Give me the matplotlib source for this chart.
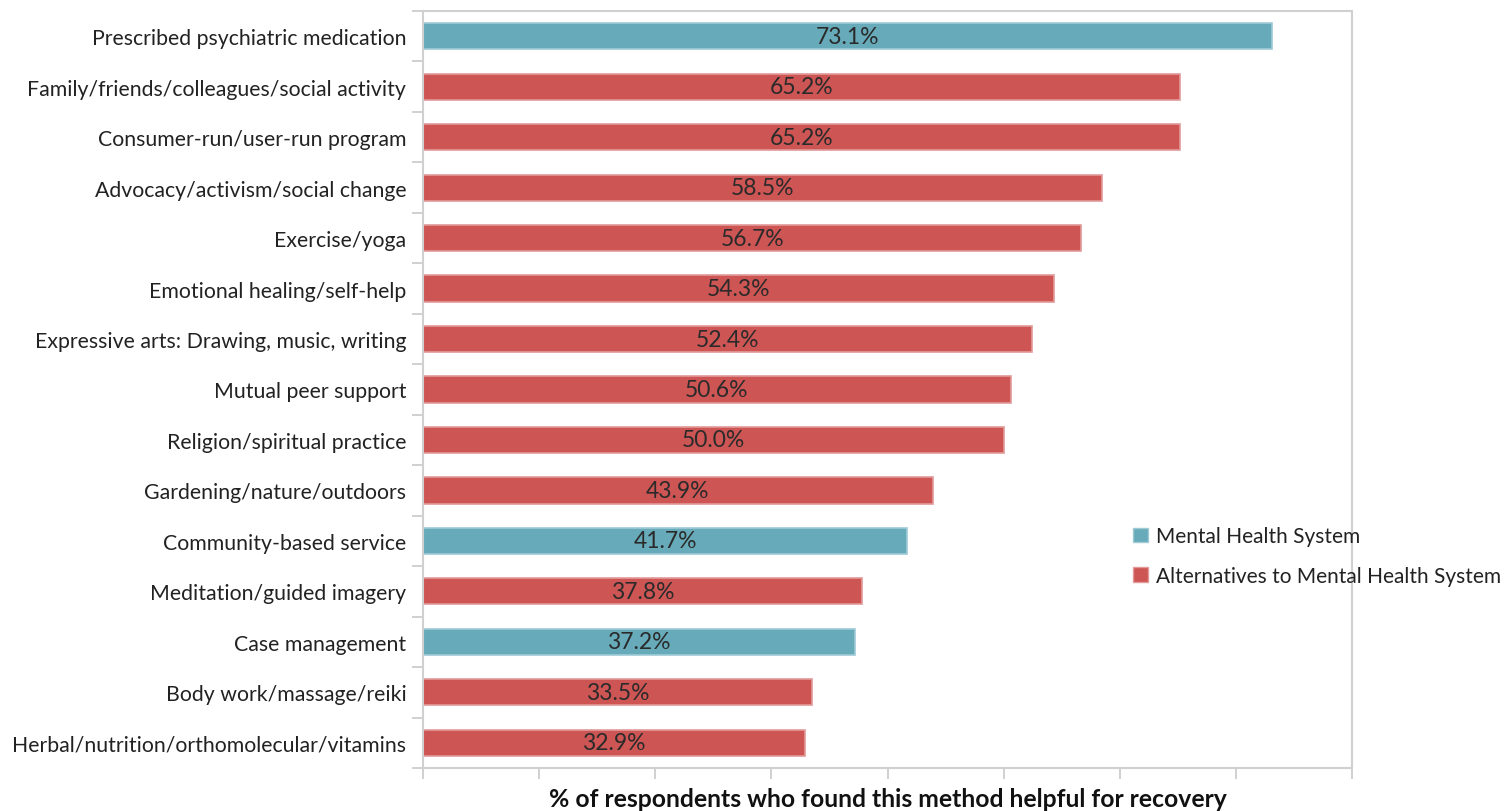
import numpy as np
import matplotlib.pyplot as plt
from matplotlib.patches import Patch

plt.rcParams['font.family'] = ['Lato', 'DejaVu Sans']

categories = [
    "Prescribed psychiatric medication",
    "Family/friends/colleagues/social activity",
    "Consumer-run/user-run program",
    "Advocacy/activism/social change",
    "Exercise/yoga",
    "Emotional healing/self-help",
    "Expressive arts: Drawing, music, writing",
    "Mutual peer support",
    "Religion/spiritual practice",
    "Gardening/nature/outdoors",
    "Community-based service",
    "Meditation/guided imagery",
    "Case management",
    "Body work/massage/reiki",
    "Herbal/nutrition/orthomolecular/vitamins",
]
values = [73.1, 65.2, 65.2, 58.5, 56.7, 54.3, 52.4, 50.6, 50.0, 43.9, 41.7, 37.8, 37.2, 33.5, 32.9]
groups = ["MHS", "ALT", "ALT", "ALT", "ALT", "ALT", "ALT", "ALT", "ALT", "ALT",
          "MHS", "ALT", "MHS", "ALT", "ALT"]

colors = {"MHS": "#67abba", "ALT": "#cd5554"}
edges = {"MHS": "#9fcbd5", "ALT": "#e29a99"}

fig = plt.figure(figsize=(15.1, 8.12), dpi=100)
ax = fig.add_axes([0.2801, 0.053, 0.6153, 0.9322])

y = np.arange(len(categories))
bars = ax.barh(y, values, height=0.52,
               color=[colors[g] for g in groups],
               edgecolor=[edges[g] for g in groups], linewidth=1.2)

for yi, v in zip(y, values):
    ax.text(v / 2, yi, f"{v:.1f}%", ha="center", va="center",
            fontsize=16.5, color="#2a2a2a")

ax.set_ylim(len(categories) - 0.5, -0.5)
ax.set_xlim(0, 80)
ax.set_yticks(y)
ax.set_yticklabels(categories, fontsize=15.3, color="#222222")
ax.set_yticks(np.arange(-0.5, len(categories), 1), minor=True)
ax.tick_params(axis="y", which="major", length=0, pad=12)
ax.tick_params(axis="y", which="minor", length=8, color="#c8c8c8", width=1.2)
ax.set_xticks(np.arange(0, 81, 10))
ax.set_xticklabels([])
ax.tick_params(axis="x", length=8, color="#c8c8c8", width=1.2)

for s in ax.spines.values():
    s.set_color("#d0d0d0")
    s.set_linewidth(1.5)

ax.set_xlabel("% of respondents who found this method helpful for recovery",
              fontsize=17.8, fontweight="bold", labelpad=2, color="#111111")

handles = [Patch(facecolor=colors["MHS"], edgecolor=edges["MHS"]),
           Patch(facecolor=colors["ALT"], edgecolor=edges["ALT"])]
fig.legend(handles, ["Mental Health System", "Alternatives to Mental Health System"],
           loc="center left", bbox_to_anchor=(0.738, 0.314), frameon=False,
           fontsize=15, handlelength=0.7, handleheight=0.7, handletextpad=0.4,
           labelspacing=0.95, labelcolor="#222222")

fig.savefig("out.png", dpi=100)
